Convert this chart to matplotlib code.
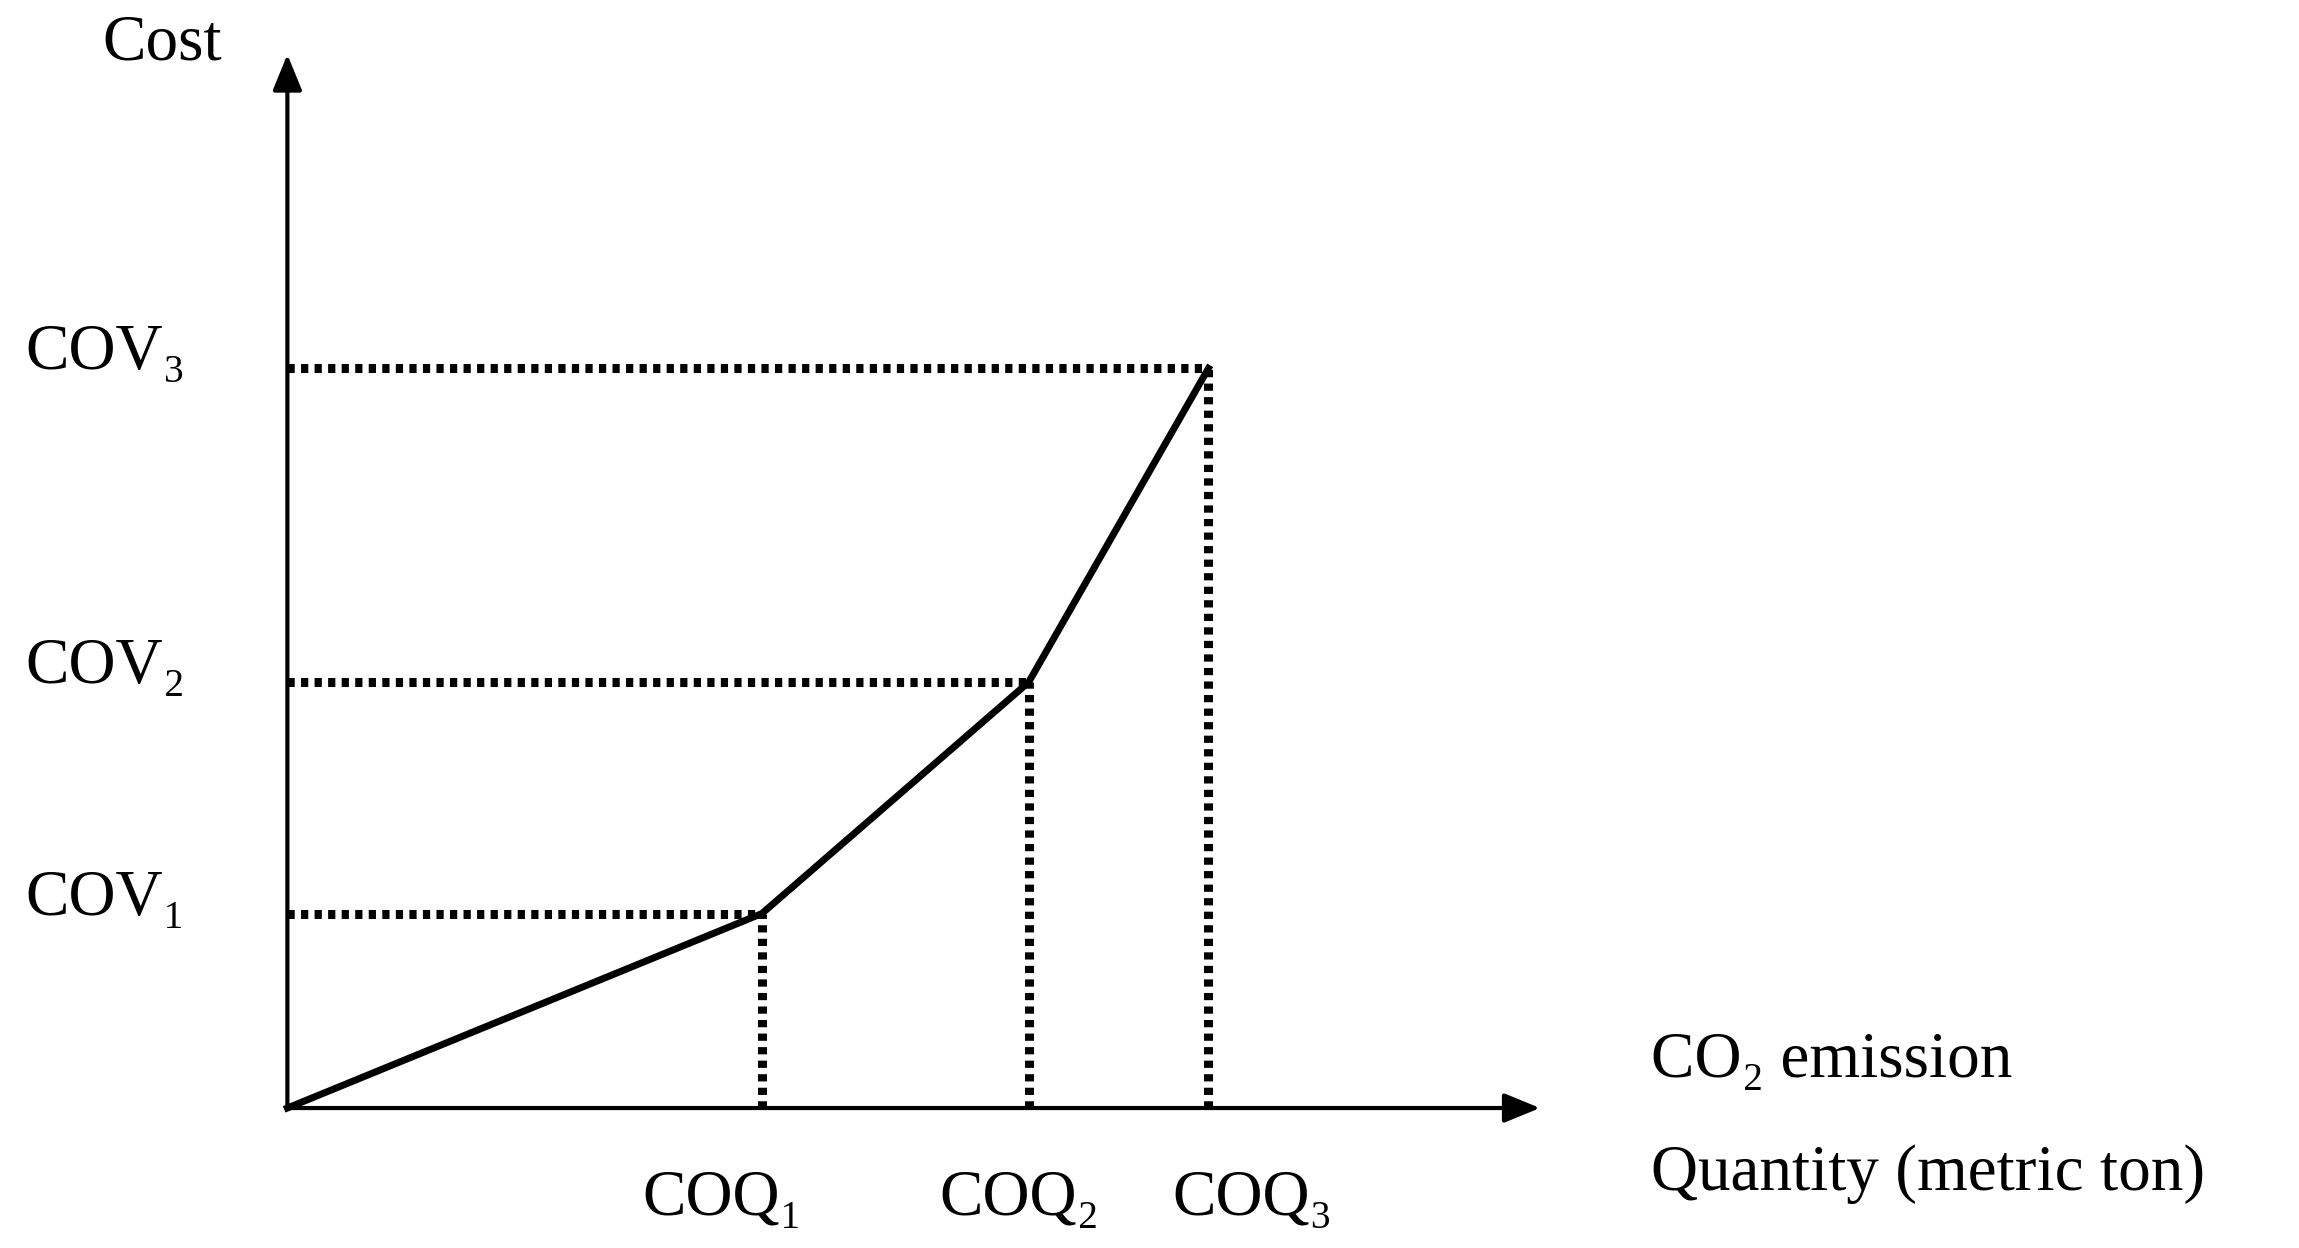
import matplotlib
matplotlib.use("Agg")
import matplotlib.pyplot as plt

quantities = [322, 503, 625]      # COQ1..3 (relative units)
costs = [132, 289, 502]           # COV1..3
q_labels = ["COQ₁", "COQ₂", "COQ₃"]
v_labels = ["COV₁", "COV₂", "COV₃"]

fam = ['Liberation Serif', 'DejaVu Serif']
fig = plt.figure(figsize=(22.99, 12.48), dpi=100)
ax = fig.add_axes([0, 0, 1, 1])
ax.set_xlim(-195, 1560 - 195)
ax.set_ylim(-(847 - 752), 752)
ax.axis('off')

lw = 3.0
ax.annotate('', xy=(850, 0), xytext=(0, 0),
            arrowprops=dict(arrowstyle='-|>,head_length=2.2,head_width=0.9', lw=lw, color='black', shrinkA=0, shrinkB=0))
ax.annotate('', xy=(0, 715), xytext=(0, 0),
            arrowprops=dict(arrowstyle='-|>,head_length=2.2,head_width=0.9', lw=lw, color='black', shrinkA=0, shrinkB=0))

ax.plot([0] + quantities, [0] + costs, color='black', lw=5, solid_joinstyle='miter')

for q, v in zip(quantities, costs):
    ax.plot([0, q], [v, v], color='black', lw=6.5, linestyle=(0, (0.8, 0.7)))
    ax.plot([q, q], [0, v], color='black', lw=6.5, linestyle=(0, (0.8, 0.7)))

fs = 47
q_offsets = [-27, -6, 30]
for q, lab, off in zip(quantities, q_labels, q_offsets):
    ax.text(q + off, -62, lab, ha='center', va='center', fontsize=fs, family=fam)
for v, lab in zip(costs, v_labels):
    ax.text(-178, v + 10, lab, ha='left', va='center', fontsize=fs, family=fam)
ax.text(-85, 722, "Cost", ha='center', va='center', fontsize=fs, family=fam)
ax.text(925, 32, "CO₂ emission", ha='left', va='center', fontsize=fs, family=fam)
ax.text(925, -45, "Quantity (metric ton)", ha='left', va='center', fontsize=fs, family=fam)

fig.savefig("out.png", dpi=100)
